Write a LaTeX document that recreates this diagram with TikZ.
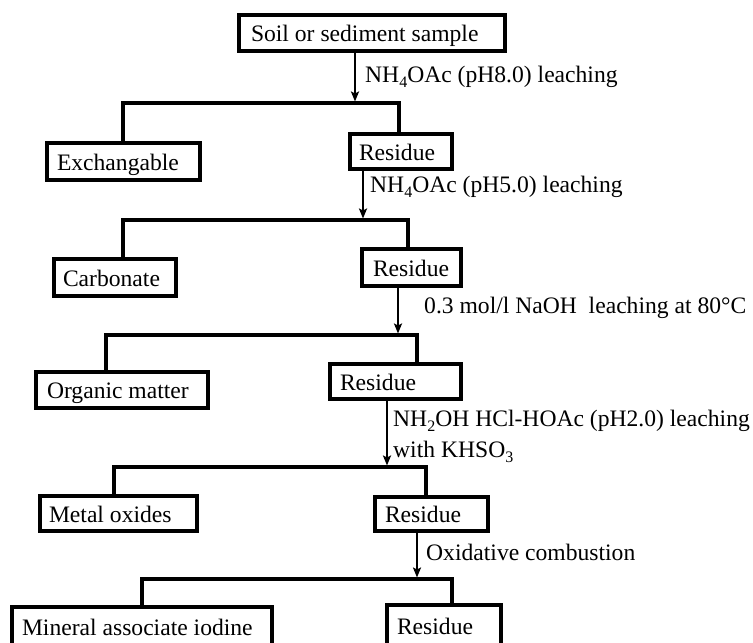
\documentclass[tikz,border=0pt]{standalone}
\usepackage{fontspec}
\setmainfont{Liberation Serif}
\usetikzlibrary{arrows.meta}

% left-aligned box text of fixed width, baseline set a little low in the box
\newcommand\boxtext[2]{\makebox[#1][l]{\rule[-5.4pt]{0pt}{28pt}#2}}
% chemical subscript
\newcommand\chemsub[1]{\raisebox{-5pt}{\fontsize{16}{16}\selectfont #1}}

\begin{document}
\begin{tikzpicture}[x=1pt,y=-1pt,
  font=\fontsize{23.6}{28}\selectfont,
  fbox/.style 2 args={draw, line width=4pt, inner xsep=#1, inner ysep=0pt,
    minimum height=#2, anchor=center},
  branch/.style={line width=3.5pt},
  feed/.style={line width=2pt, shorten >=1.5pt,
    -{Stealth[length=10pt,width=8pt,inset=2pt]}},
  lab/.style={anchor=base west, inner sep=0pt}]
\clip (0,0) rectangle (753,643);
\fill[white] (0,0) rectangle (753,643);

% boxes
\node[fbox={12pt}{36pt}] (soil) at (372,33) {\boxtext{242pt}{Soil or sediment sample}};
\node[fbox={10pt}{37pt}] (exch) at (123.5,161.5) {\boxtext{133pt}{Exchangable}};
\node[fbox={9pt}{35pt}] (res1) at (401,151.5) {\boxtext{84pt}{Residue}};
\node[fbox={9pt}{37pt}] (carb) at (115,277.5) {\boxtext{104pt}{Carbonate}};
\node[fbox={11pt}{37pt}] (res2) at (411.5,267.5) {\boxtext{77pt}{Residue}};
\node[fbox={11pt}{36pt}] (org) at (122,390) {\boxtext{150pt}{Organic matter}};
\node[fbox={10pt}{35pt}] (res3) at (395.5,381.5) {\boxtext{111pt}{Residue}};
\node[fbox={9pt}{35pt}] (metal) at (118.5,513.5) {\boxtext{139pt}{Metal oxides}};
\node[fbox={10pt}{34pt}] (res4) at (431.5,514) {\boxtext{93pt}{Residue}};
\node[fbox={10pt}{39pt}] (mineral) at (142,626.5) {\boxtext{240pt}{Mineral associate iodine}};
\node[fbox={10pt}{41pt}] (res5) at (444,625.5) {\boxtext{94pt}{Residue}};

% branch points
\coordinate (j1l) at (123,103); \coordinate (j1r) at (399,103); \coordinate (a1) at (355,103);
\coordinate (j2l) at (123,220); \coordinate (j2r) at (408,220); \coordinate (a2) at (363,220);
\coordinate (j3l) at (106,335); \coordinate (j3r) at (417,335); \coordinate (a3) at (398,335);
\coordinate (j4l) at (114,467); \coordinate (j4r) at (426,467); \coordinate (a4) at (387,467);
\coordinate (j5l) at (142,579); \coordinate (j5r) at (452,579); \coordinate (a5) at (417,579);

% splits
\draw[branch] (exch.north -| j1l) -- (j1l) -- (j1r) -- (res1.north -| j1r);
\draw[branch] (carb.north -| j2l) -- (j2l) -- (j2r) -- (res2.north -| j2r);
\draw[branch] (org.north -| j3l) -- (j3l) -- (j3r) -- (res3.north -| j3r);
\draw[branch] (metal.north -| j4l) -- (j4l) -- (j4r) -- (res4.north -| j4r);
\draw[branch] (mineral.north -| j5l) -- (j5l) -- (j5r) -- (res5.north -| j5r);

% treatment steps
\draw[feed] (soil.south -| a1) -- (a1);
\draw[feed] (res1.south -| a2) -- (a2);
\draw[feed] (res2.south -| a3) -- (a3);
\draw[feed] (res3.south -| a4) -- (a4);
\draw[feed] (res4.south -| a5) -- (a5);

% step labels
\node[lab] (l1) at (365,82) {NH\chemsub{4}OAc (pH8.0) leaching};
\node[lab] (l2) at (370,192) {NH\chemsub{4}OAc (pH5.0) leaching};
\node[lab] (l3) at (424,313) {0.3 mol/l NaOH\ \ leaching at 80°C};
\node[lab] (l4a) at (393,426) {NH\chemsub{2}OH HCl-HOAc (pH2.0) leaching};
\node[lab] (l4b) at (393,457) {with KHSO\chemsub{3}};
\node[lab] (l5) at (426,560) {Oxidative combustion};
\end{tikzpicture}
\end{document}
